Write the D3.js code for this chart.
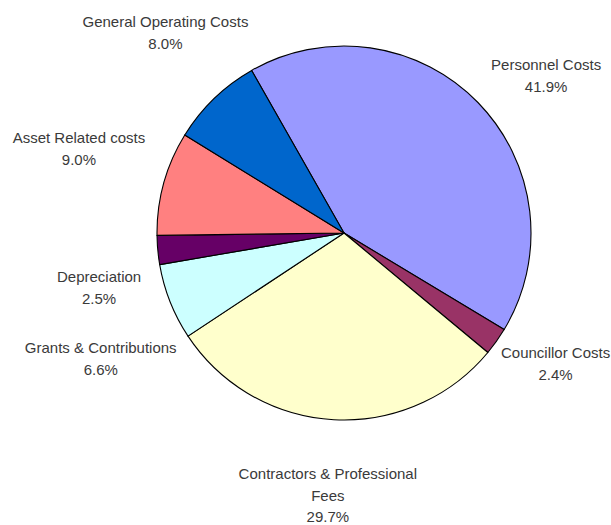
<!DOCTYPE html>
<html>
<head>
<meta charset="utf-8">
<script src="https://cdn.jsdelivr.net/npm/d3@7"></script>
<style>
  html, body { margin: 0; padding: 0; background: #ffffff; }
  svg { display: block; }
  text { font-family: "Liberation Sans", Arial, sans-serif; font-size: 15px; fill: #3a3a3a; }
</style>
</head>
<body>
<svg id="chart" width="611" height="525"></svg>
<script>
// Expenditure breakdown, in pie order (clockwise)
const categories = [
  "Personnel Costs",
  "Councillor Costs",
  "Contractors & Professional\nFees",
  "Grants & Contributions",
  "Depreciation",
  "Asset Related costs",
  "General Operating Costs"
];
const shares = [41.9, 2.4, 29.7, 6.6, 2.5, 9.0, 8.0];
const sliceColors = ["#9999ff", "#993366", "#ffffcc", "#ccffff", "#660066", "#ff8080", "#0066cc"];

// Label placement relative to each slice's mid angle: extra rotation (deg) and distance from centre
const labelTurn = [6.4, -3.6, 0.4, -5.8, -7.4, 2.1, 2.2];
const labelDist = [256, 249, 263, 274, 251, 278, 268];

const cx = 344, cy = 233, radius = 187;
const lineHeight = 21.5;
const rad = Math.PI / 180;
const startDeg = -29.6;

const svg = d3.select("#chart");
const g = svg.append("g").attr("transform", `translate(${cx},${cy})`);

const pie = d3.pie()
  .sort(null)
  .value(d => d)
  .startAngle(startDeg * rad)
  .endAngle((startDeg + 360) * rad);

const arcs = pie(shares);
const arc = d3.arc().innerRadius(0).outerRadius(radius);

g.selectAll("path.slice")
  .data(arcs)
  .join("path")
  .attr("class", "slice")
  .attr("d", arc)
  .attr("fill", (d, i) => sliceColors[i])
  .attr("stroke", "#000")
  .attr("stroke-width", 1.1)
  .attr("stroke-linejoin", "round");

const fmt = d3.format(".1f");

const labels = g.selectAll("text.lbl")
  .data(arcs)
  .join("text")
  .attr("class", "lbl")
  .attr("text-anchor", "middle")
  .each(function (d, i) {
    const mid = (d.startAngle + d.endAngle) / 2 + labelTurn[i] * rad;
    const x = Math.sin(mid) * labelDist[i];
    const y = -Math.cos(mid) * labelDist[i];
    const lines = categories[i].split("\n").concat([fmt(shares[i]) + "%"]);
    const firstBase = y - (lines.length - 1) * lineHeight / 2 + 5;
    const t = d3.select(this);
    lines.forEach((ln, k) => {
      t.append("tspan")
        .attr("x", x)
        .attr("y", firstBase + k * lineHeight)
        .text(ln);
    });
  });
</script>
</body>
</html>
